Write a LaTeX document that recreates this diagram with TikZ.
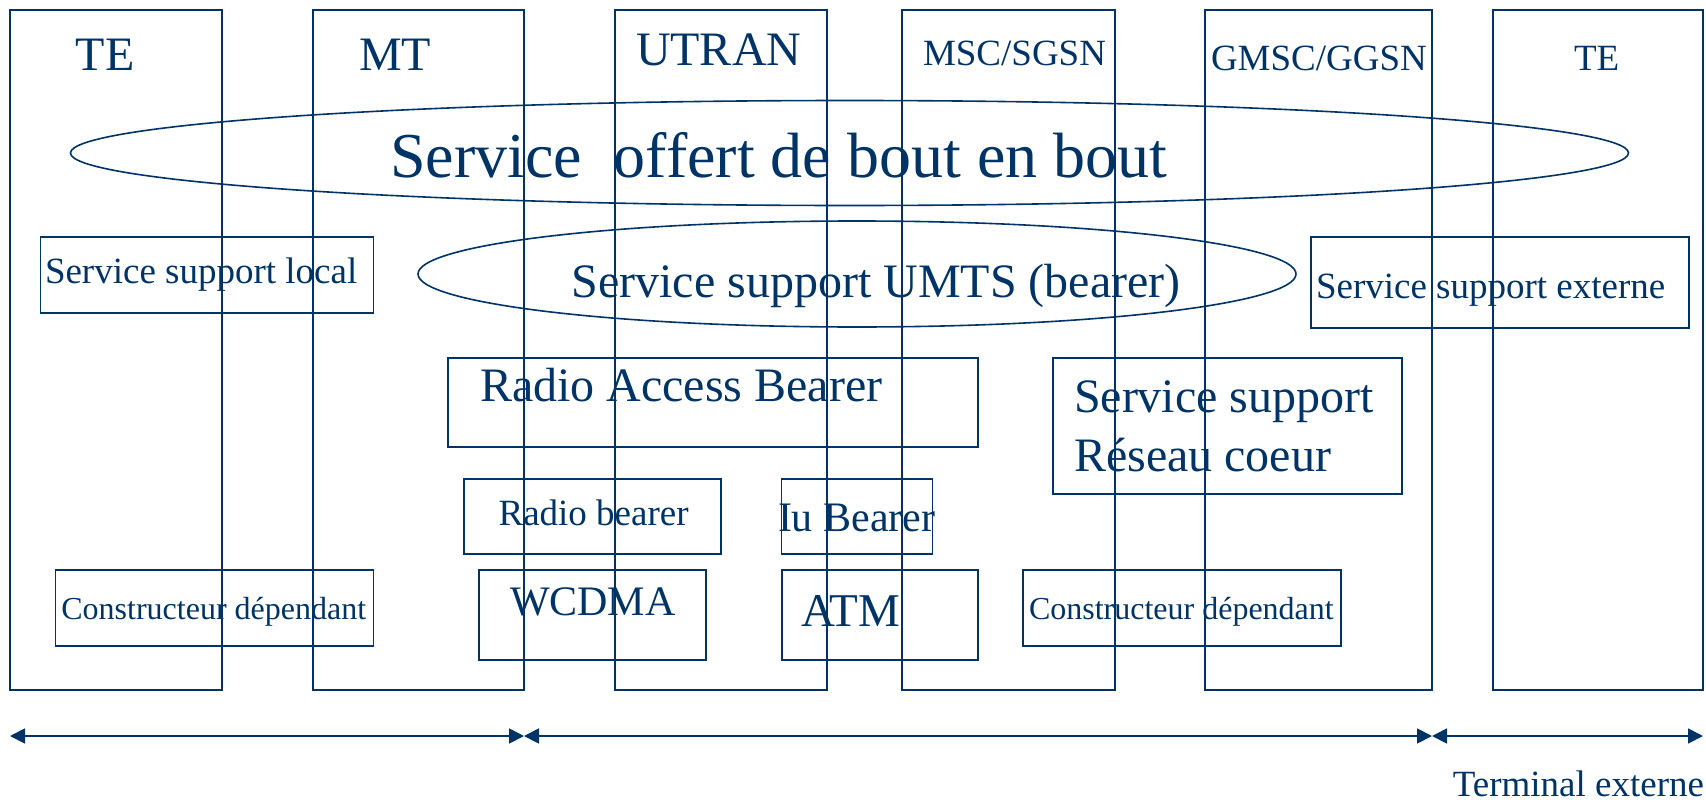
\documentclass[tikz,border=0pt]{standalone}
\usepackage{fontspec}
\setmainfont{Liberation Serif}
\usepackage{tikz}
\usetikzlibrary{shapes.geometric,arrows.meta}
\definecolor{navy}{RGB}{0,51,102}
\newcommand{\fsz}[1]{\fontsize{#1}{#1}\selectfont}

\begin{document}
\begin{tikzpicture}[x=1pt,y=-1pt,
  every node/.style={inner sep=0pt,outer sep=0pt},
  lane/.style={draw=navy,line width=1.6pt,minimum height=680pt},
  box/.style={draw=navy,line width=1.6pt},
  oval/.style={draw=navy,line width=1.6pt,ellipse},
  lbl/.style={anchor=base west,text=navy},
  dim/.style={navy,line width=1.8pt,{Triangle[length=15pt,width=15pt]}-{Triangle[length=15pt,width=15pt]}}]
\useasboundingbox (0,0) rectangle (1706,803);
% columns
\node[lane,minimum width=212pt] (te1) at (116,350) {};
\node[lane,minimum width=211pt] (mt) at (418.5,350) {};
\node[lane,minimum width=212pt] (utran) at (721,350) {};
\node[lane,minimum width=213pt] (msc) at (1008.5,350) {};
\node[lane,minimum width=227pt] (gmsc) at (1318.5,350) {};
\node[lane,minimum width=210pt] (te2) at (1598,350) {};
\node[lbl,font=\fsz{48}] (te1txt) at (75.7,70.7) {TE};
\node[lbl,font=\fsz{48}] (mttxt) at (359,70.7) {MT};
\node[lbl,font=\fsz{48}] (utrantxt) at (636,65.7) {UTRAN};
\node[lbl,font=\fsz{37}] (msctxt) at (923,65) {MSC/SGSN};
\node[lbl,font=\fsz{37}] (gmsctxt) at (1211,70.7) {GMSC/GGSN};
\node[lbl,font=\fsz{37}] (te2txt) at (1574,70.7) {TE};
% ellipses
\node[oval,minimum width=1558pt,minimum height=105pt] (bout) at (849.5,153) {};
\node[lbl,font=\fsz{64}] (bouttxt) at (390,177) {Service\ \ offert de bout en bout};
\node[oval,minimum width=878pt,minimum height=106pt] (umts) at (857,274) {};
\node[lbl,font=\fsz{48}] (umtstxt) at (571.6,297) {Service support UMTS (bearer)};
% boxes
\node[box,minimum width=333pt,minimum height=76pt] (local) at (207,274.7) {};
\node[lbl,font=\fsz{37}] (localtxt) at (45,283) {Service support local};
\node[box,minimum width=378pt,minimum height=91pt] (ext) at (1500,282.5) {};
\node[lbl,font=\fsz{37}] (exttxt) at (1316,298) {Service support externe};
\node[box,minimum width=530pt,minimum height=89pt] (rab) at (713,402.5) {};
\node[lbl,font=\fsz{48}] (rabtxt) at (480,401.7) {Radio Access Bearer};
\node[box,minimum width=349pt,minimum height=136pt] (cn) at (1227.5,426) {};
\node[lbl,font=\fsz{48}] (cntxt) at (1074,412.5) {Service support};
\node[lbl,font=\fsz{48}] (cntxtb) at (1074,471) {Réseau coeur};
\node[box,minimum width=257pt,minimum height=75pt] (rb) at (592.5,516.5) {};
\node[lbl,font=\fsz{37}] (rbtxt) at (498.6,525) {Radio bearer};
\node[box,minimum width=151pt,minimum height=75pt] (iu) at (857,516.5) {};
\node[lbl,font=\fsz{42}] (iutxt) at (778,531.7) {Iu Bearer};
\node[box,minimum width=318pt,minimum height=76pt] (cons1) at (214.5,608) {};
\node[lbl,font=\fsz{32}] (cons1txt) at (61.4,619) {Constructeur dépendant};
\node[box,minimum width=227pt,minimum height=90pt] (wcdma) at (592.5,615) {};
\node[lbl,font=\fsz{42}] (wcdmatxt) at (510,615) {WCDMA};
\node[box,minimum width=196pt,minimum height=90pt] (atm) at (879.7,615) {};
\node[lbl,font=\fsz{47}] (atmtxt) at (801,626) {ATM};
\node[box,minimum width=318pt,minimum height=76pt] (cons2) at (1182,608) {};
\node[lbl,font=\fsz{32}] (cons2txt) at (1029,619) {Constructeur dépendant};
% spans
\coordinate (a0) at (te1.west |- 0,736);
\coordinate (a1) at (mt.east |- 0,736);
\coordinate (a2) at (gmsc.east |- 0,736);
\coordinate (a3) at (te2.east |- 0,736);
\draw[dim] (a0) -- (a1);
\draw[dim] (a1) -- (a2);
\draw[dim] (a2) -- (a3);
\node[lbl,anchor=base east,font=\fsz{37}] (termtxt) at (1704,796.7) {Terminal externe};
\end{tikzpicture}
\end{document}
